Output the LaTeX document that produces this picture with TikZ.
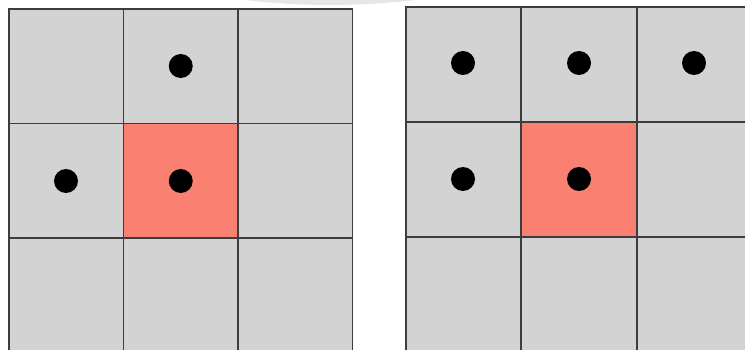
\documentclass[tikz,border=0pt]{standalone}
\definecolor{cellgray}{HTML}{D3D3D3}
\definecolor{cellsalmon}{HTML}{FA8072}
\definecolor{gridline}{HTML}{3C3C3C}
\definecolor{wmark}{HTML}{E6E6E6}
\tikzset{
  cell/.style={draw=gridline, line width=1.3pt, fill=cellgray},
  hot/.style={draw=gridline, line width=1.3pt, fill=cellsalmon},
  dot/.style={circle, fill=black, inner sep=0pt, minimum size=24pt},
}
\begin{document}
\begin{tikzpicture}[x=1pt,y=-1pt]
\useasboundingbox (0,0) rectangle (745,350);
\begin{scope}
\clip (0,0) rectangle (745,350);
% watermark arc
\fill[wmark] (330,-720) circle (725);
% left grid
\foreach \i/\xa in {0/9,1/123.5,2/238}{
  \foreach \j/\ya in {0/9,1/123.5,2/238}{
    \draw[cell] (\xa,\ya) rectangle ++(114.5,114.5);
  }
}
\draw[hot] (123.5,123.5) rectangle ++(114.5,114.5);
% right grid
\foreach \i/\xa in {0/406,1/521,2/637}{
  \foreach \j/\ya in {0/7,1/122,2/237}{
    \draw[cell] (\xa,\ya) rectangle ++(115.5,115);
  }
}
\draw[hot] (521,122) rectangle ++(116,115);
\end{scope}
% left dots
\node[dot] (l1) at (180.75,66) {};
\node[dot] (l2) at (66,181) {};
\node[dot] (l3) at (180.75,181) {};
% right dots
\node[dot] (r1) at (463,63) {};
\node[dot] (r2) at (579,63) {};
\node[dot] (r3) at (694,63) {};
\node[dot] (r4) at (463,179) {};
\node[dot] (r5) at (579,179) {};
\end{tikzpicture}
\end{document}
